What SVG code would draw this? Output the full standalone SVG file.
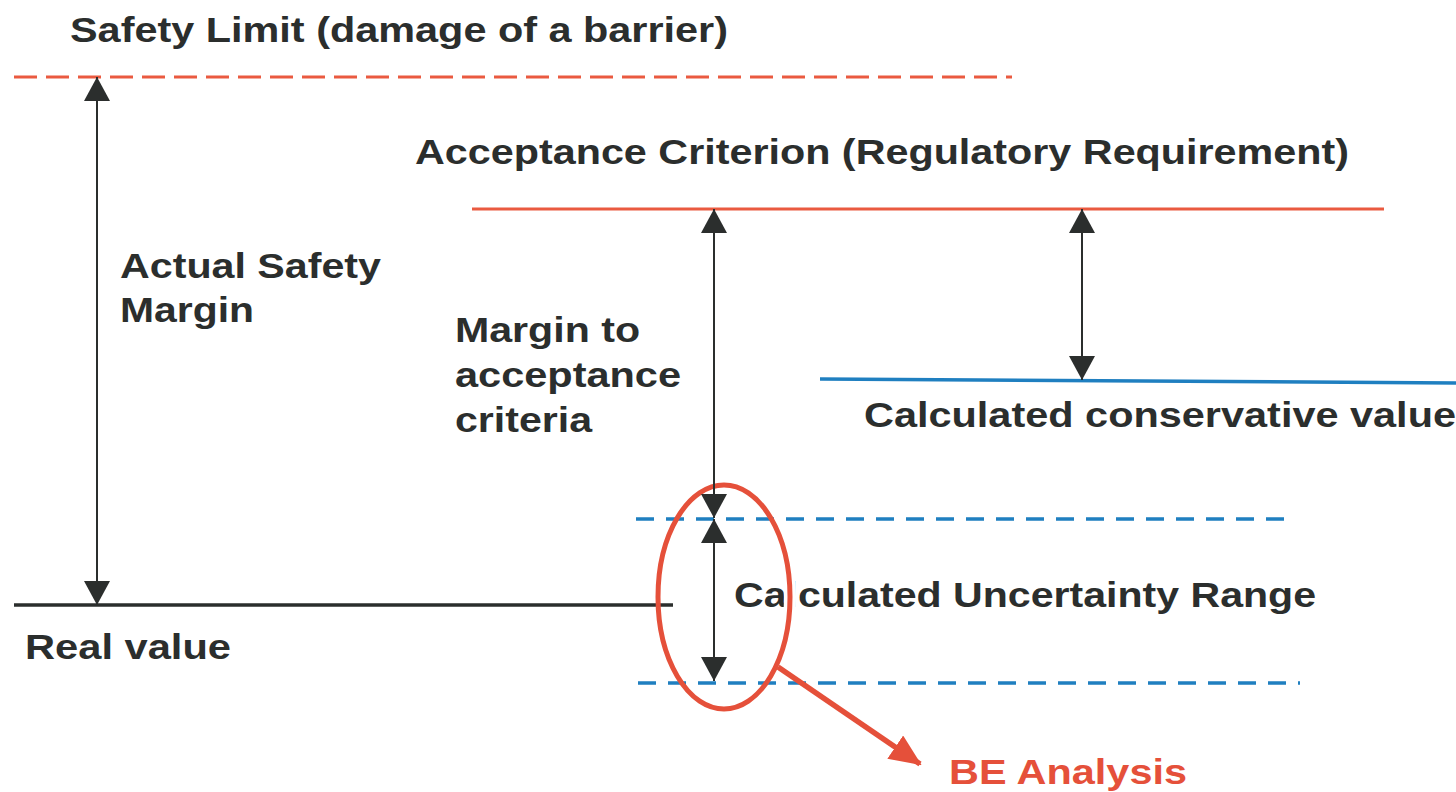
<svg xmlns="http://www.w3.org/2000/svg" width="1456" height="792" viewBox="0 0 1456 792">
  <defs>
    <style>
      .lbl { font-family: "Liberation Sans", Arial, sans-serif; font-weight: bold; font-size: 35px; fill: #2b2e2d; }
      .red-lbl { fill: #e5503a; }
      .dim { stroke: #2b2e2d; stroke-width: 2; fill: none; marker-start: url(#head); marker-end: url(#head); }
      .red-dash { stroke: #ea5a40; stroke-width: 3; stroke-dasharray: 23 9; fill: none; }
      .red-solid { stroke: #ea5a40; stroke-width: 3; fill: none; }
      .blue-solid { stroke: #1f7fc0; stroke-width: 3.5; fill: none; }
      .blue-dash { stroke: #1f7fc0; stroke-width: 3.5; stroke-dasharray: 18 12; fill: none; }
      .black-solid { stroke: #2b2e2d; stroke-width: 3.5; fill: none; }
    </style>
    <marker id="head" viewBox="0 0 24 26" refX="24" refY="13" markerWidth="24" markerHeight="26" markerUnits="userSpaceOnUse" orient="auto-start-reverse">
      <path d="M0,0 L24,13 L0,26 Z" fill="#2b2e2d"/>
    </marker>
    <marker id="redhead" viewBox="0 0 32 28" refX="30" refY="14" markerWidth="32" markerHeight="28" markerUnits="userSpaceOnUse" orient="auto">
      <path d="M0,0 L32,14 L0,28 Z" fill="#e5503a"/>
    </marker>
    <clipPath id="textband">
      <rect x="760" y="570" width="60" height="50"/>
    </clipPath>
  </defs>

  <rect width="1456" height="792" fill="#ffffff"/>

  <!-- reference levels -->
  <g id="safety-limit">
    <line class="red-dash" x1="14" y1="77" x2="1012" y2="77"/>
    <text class="lbl" x="70" y="42" textLength="658" lengthAdjust="spacingAndGlyphs">Safety Limit (damage of a barrier)</text>
  </g>

  <g id="acceptance-criterion">
    <line class="red-solid" x1="472" y1="209" x2="1384" y2="209"/>
    <text class="lbl" x="415" y="164" textLength="934" lengthAdjust="spacingAndGlyphs">Acceptance Criterion (Regulatory Requirement)</text>
  </g>

  <g id="conservative-value">
    <line class="blue-solid" x1="820" y1="379" x2="1456" y2="383"/>
    <text class="lbl" x="864" y="427" textLength="592" lengthAdjust="spacingAndGlyphs">Calculated conservative value</text>
  </g>

  <g id="uncertainty-range">
    <line class="blue-dash" x1="636" y1="519" x2="1290" y2="519"/>
    <line class="blue-dash" x1="638" y1="683" x2="1300" y2="683"/>
    <text class="lbl" x="734" y="607" textLength="582" lengthAdjust="spacingAndGlyphs">Calculated Uncertainty Range</text>
  </g>

  <g id="real-value">
    <line class="black-solid" x1="14" y1="605" x2="673" y2="605"/>
    <text class="lbl" x="25" y="659" textLength="206" lengthAdjust="spacingAndGlyphs">Real value</text>
  </g>

  <!-- margin labels -->
  <g id="actual-safety-margin">
    <text class="lbl" x="120" y="278" textLength="261" lengthAdjust="spacingAndGlyphs">Actual Safety</text>
    <text class="lbl" x="120" y="322" textLength="134" lengthAdjust="spacingAndGlyphs">Margin</text>
  </g>

  <g id="margin-to-acceptance">
    <text class="lbl" x="455" y="342" textLength="185" lengthAdjust="spacingAndGlyphs">Margin to</text>
    <text class="lbl" x="455" y="387" textLength="226" lengthAdjust="spacingAndGlyphs">acceptance</text>
    <text class="lbl" x="455" y="432" textLength="137" lengthAdjust="spacingAndGlyphs">criteria</text>
  </g>

  <!-- best-estimate highlight -->
  <g id="be-analysis">
    <ellipse cx="724" cy="597" rx="66" ry="112" fill="none" stroke="#ffffff" stroke-width="12" clip-path="url(#textband)"/>
    <ellipse cx="724" cy="597" rx="66" ry="112" fill="none" stroke="#e5503a" stroke-width="5"/>
    <text class="lbl red-lbl" x="949" y="784" textLength="238" lengthAdjust="spacingAndGlyphs">BE Analysis</text>
  </g>

  <!-- dimension arrows and pointer -->
  <g id="connectors">
    <line class="dim" x1="97" y1="77" x2="97" y2="605"/>
    <line class="dim" x1="714" y1="209" x2="714" y2="518"/>
    <line class="dim" x1="714" y1="519" x2="714" y2="681"/>
    <line class="dim" x1="1082" y1="209" x2="1082" y2="380"/>
    <line x1="778" y1="667" x2="920" y2="764" stroke="#e5503a" stroke-width="5.5" marker-end="url(#redhead)"/>
  </g>
</svg>
